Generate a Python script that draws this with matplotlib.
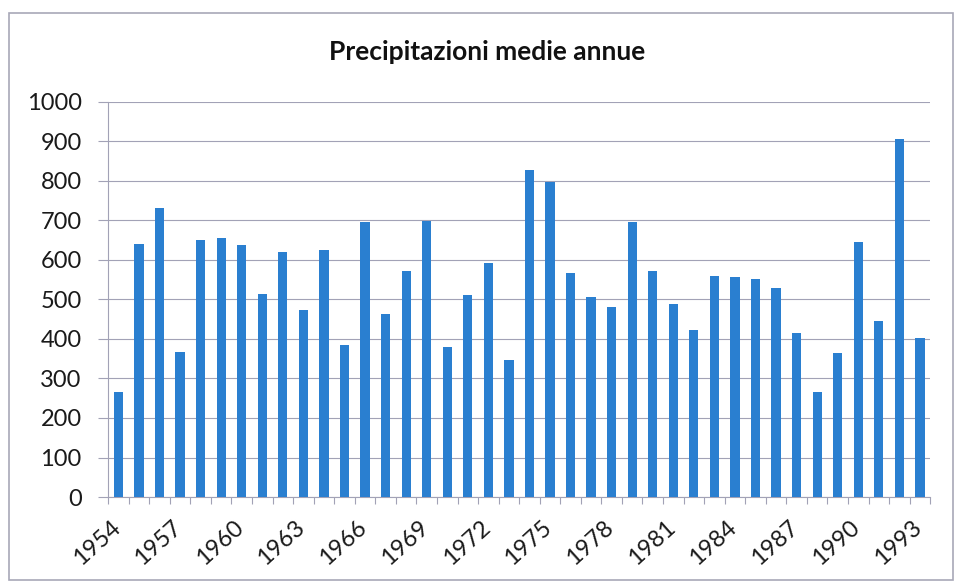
import numpy as np
import matplotlib.pyplot as plt
import matplotlib.transforms as mtransforms
from matplotlib.patches import Rectangle

# ----------------------
# Dati
# ----------------------

anni = list(range(1954, 1994))
precipitazioni = [267, 641, 732, 366, 651, 655, 639, 514, 621, 473,
                  624, 385, 696, 462, 571, 698, 379, 510, 591, 347,
                  827, 796, 567, 505, 480, 697, 573, 488, 423, 560,
                  556, 551, 528, 414, 267, 364, 645, 445, 905, 402]
etichette_y = [0, 100, 200, 300, 400, 500, 600, 700, 800, 900, 1000]
titolo = 'Precipitazioni medie annue'

# ----------------------
# Grafico
# ----------------------

plt.rcParams['font.family'] = ['Lato', 'DejaVu Sans']
grigio = '#a2a2b6'

fig = plt.figure(figsize=(9.57, 5.82), dpi=100)
ax = fig.add_axes([0.113, 0.146, 0.859, 0.679])

x = np.arange(len(anni))
ax.bar(x, precipitazioni, width=0.45, color='#2a7fd0', zorder=3)

ax.set_xlim(-0.5, len(anni) - 0.5)
ax.set_ylim(0, 1000)
ax.set_yticks(etichette_y)
ax.tick_params(axis='y', length=7, width=0.8, color=grigio, labelsize=17,
               pad=12, labelcolor='#1a1a1a')
ax.yaxis.grid(True, color=grigio, linewidth=0.8, zorder=0)

# etichette ogni 3 anni, tacche tra le categorie
ax.set_xticks(x[::3])
ax.set_xticklabels([str(a) for a in anni[::3]], rotation=42, ha='right',
                   va='top', rotation_mode='anchor', fontsize=17, color='#1a1a1a')
ax.tick_params(axis='x', length=0, pad=14)
spost = mtransforms.ScaledTranslation(-6 / 72, 0, fig.dpi_scale_trans)
for lab in ax.get_xticklabels():
    lab.set_transform(lab.get_transform() + spost)
ax.set_xticks(np.arange(-0.5, len(anni), 1), minor=True)
ax.tick_params(axis='x', which='minor', length=5, color=grigio, width=0.8)

for lato in ['top', 'right']:
    ax.spines[lato].set_visible(False)
ax.spines['left'].set_color(grigio)
ax.spines['bottom'].set_color(grigio)
ax.spines['left'].set_linewidth(0.8)
ax.spines['bottom'].set_linewidth(0.8)

fig.text(0.509, 0.91, titolo, ha='center', va='center', fontsize=19,
         fontweight='bold', color='#111111')

fig.patches.append(Rectangle((0.009, 0.004), 0.987, 0.973, transform=fig.transFigure,
                             fill=False, edgecolor='#a8a8b8', linewidth=1.2))

fig.savefig('out.png', dpi=100)
